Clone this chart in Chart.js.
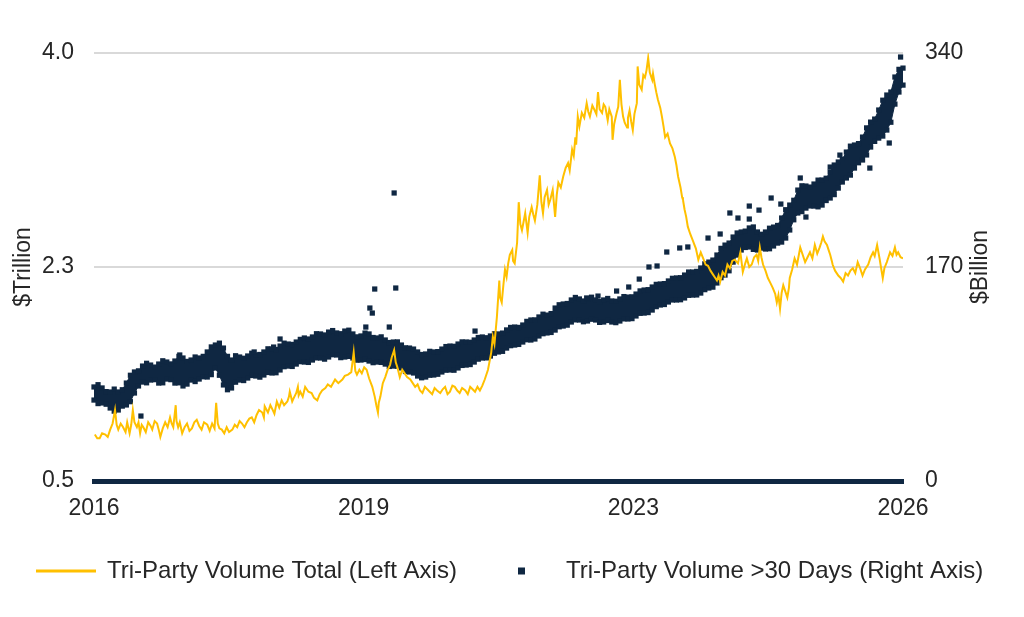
<!DOCTYPE html>
<html>
<head>
<meta charset="utf-8">
<script src="https://cdn.jsdelivr.net/npm/chart.js@4.4.1/dist/chart.umd.min.js"></script>
<style>
  html, body { margin: 0; padding: 0; background: #ffffff; }
  #wrap { width: 1024px; height: 617px; position: relative; }
</style>
</head>
<body>
<div id="wrap"><canvas id="c" width="1024" height="617"></canvas></div>
<script>
// ---------- DATA ----------
const seriesLabels = ['Tri-Party Volume Total (Left Axis)', 'Tri-Party Volume >30 Days (Right Axis)'];
const axisTitles = ['$Trillion', '$Billion'];

const xTickValues = [2016, 2019.333, 2022.667, 2026];
const xTickLabels = ['2016', '2019', '2023', '2026'];
const leftTickValues = [0.5, 2.25, 4.0];
const leftTickLabels = ['0.5', '2.3', '4.0'];
const rightTickValues = [0, 170, 340];
const rightTickLabels = ['0', '170', '340'];

// Tri-Party Volume Total ($ trillion)
const totalDates = [
  2016.01,2016.04,2016.07,2016.10,2016.14,2016.17,2016.20,2016.23,2016.26,2016.28,
  2016.30,2016.33,2016.36,2016.39,2016.41,2016.44,2016.46,2016.48,2016.50,2016.53,
  2016.55,2016.57,2016.59,2016.61,2016.64,2016.67,2016.70,2016.72,2016.75,2016.78,
  2016.80,2016.82,2016.85,2016.88,2016.91,2016.94,2016.96,2016.98,2017.01,2017.02,
  2017.04,2017.06,2017.09,2017.12,2017.15,2017.18,2017.21,2017.24,2017.27,2017.30,
  2017.33,2017.36,2017.40,2017.43,2017.46,2017.49,2017.51,2017.53,2017.55,2017.58,
  2017.61,2017.64,2017.67,2017.71,2017.74,2017.77,2017.80,2017.83,2017.86,2017.89,
  2017.92,2017.95,2017.98,2018.01,2018.04,2018.08,2018.10,2018.11,2018.15,2018.18,
  2018.21,2018.23,2018.26,2018.29,2018.32,2018.35,2018.39,2018.41,2018.42,2018.45,
  2018.47,2018.50,2018.52,2018.53,2018.55,2018.58,2018.61,2018.65,2018.69,2018.72,
  2018.76,2018.79,2018.82,2018.86,2018.89,2018.93,2018.98,2019.02,2019.07,2019.10,
  2019.14,2019.18,2019.21,2019.23,2019.25,2019.28,2019.31,2019.34,2019.37,2019.40,
  2019.44,2019.47,2019.49,2019.51,2019.52,2019.54,2019.57,2019.60,2019.63,2019.66,
  2019.68,2019.71,2019.73,2019.75,2019.78,2019.81,2019.84,2019.87,2019.91,2019.94,
  2019.97,2020.00,2020.03,2020.06,2020.09,2020.12,2020.15,2020.18,2020.21,2020.24,
  2020.28,2020.31,2020.34,2020.37,2020.40,2020.43,2020.46,2020.49,2020.52,2020.55,
  2020.59,2020.62,2020.65,2020.68,2020.71,2020.74,2020.77,2020.80,2020.83,2020.87,
  2020.91,2020.93,2020.95,2020.98,2021.01,2021.02,2021.04,2021.06,2021.08,2021.10,
  2021.12,2021.14,2021.17,2021.18,2021.20,2021.23,2021.25,2021.27,2021.29,2021.31,
  2021.33,2021.36,2021.38,2021.41,2021.43,2021.45,2021.48,2021.51,2021.53,2021.55,
  2021.57,2021.60,2021.62,2021.64,2021.67,2021.70,2021.72,2021.74,2021.77,2021.80,
  2021.83,2021.86,2021.88,2021.91,2021.93,2021.95,2021.96,2021.98,2022.00,2022.03,
  2022.06,2022.09,2022.11,2022.13,2022.16,2022.19,2022.21,2022.23,2022.25,2022.28,
  2022.30,2022.32,2022.35,2022.37,2022.40,2022.41,2022.43,2022.46,2022.48,2022.50,
  2022.52,2022.54,2022.56,2022.59,2022.60,2022.62,2022.64,2022.66,2022.68,2022.71,
  2022.72,2022.74,2022.77,2022.79,2022.81,2022.83,2022.85,2022.87,2022.90,2022.91,
  2022.93,2022.95,2022.97,2023.00,2023.02,2023.04,2023.06,2023.09,2023.12,2023.15,
  2023.18,2023.20,2023.22,2023.25,2023.27,2023.28,2023.30,2023.32,2023.34,2023.37,
  2023.40,2023.44,2023.47,2023.50,2023.53,2023.56,2023.59,2023.62,2023.65,2023.68,
  2023.70,2023.72,2023.74,2023.77,2023.80,2023.83,2023.86,2023.89,2023.92,2023.96,
  2023.99,2024.02,2024.05,2024.07,2024.10,2024.13,2024.16,2024.19,2024.21,2024.23,
  2024.25,2024.27,2024.30,2024.33,2024.36,2024.39,2024.42,2024.44,2024.46,2024.48,
  2024.50,2024.52,2024.55,2024.57,2024.59,2024.60,2024.63,2024.66,2024.69,2024.73,
  2024.76,2024.79,2024.82,2024.85,2024.88,2024.91,2024.94,2024.97,2024.99,2025.01,
  2025.03,2025.06,2025.08,2025.10,2025.12,2025.13,2025.16,2025.20,2025.23,2025.26,
  2025.29,2025.32,2025.35,2025.38,2025.41,2025.44,2025.47,2025.50,2025.53,2025.57,
  2025.60,2025.63,2025.65,2025.68,2025.71,2025.73,2025.75,2025.77,2025.80,2025.82,
  2025.84,2025.87,2025.90,2025.92,2025.94,2025.97,2026.00
];
const totalValues = [
  0.88,0.85,0.85,0.89,0.88,0.86,0.92,0.97,1.08,0.96,
  0.92,0.97,0.94,0.90,0.98,0.89,0.96,1.08,0.98,0.94,
  0.98,0.89,0.96,0.94,0.90,0.98,0.95,0.92,0.99,0.97,
  0.92,0.86,0.93,0.98,0.94,1.02,0.97,0.94,1.12,0.99,
  0.94,0.98,0.89,0.94,0.97,0.91,0.93,0.98,1.00,0.95,
  0.92,0.98,0.96,0.91,0.97,0.93,1.14,0.97,0.93,0.92,
  0.89,0.94,0.90,0.92,0.96,0.94,0.99,0.97,0.94,0.98,
  1.01,1.02,0.98,1.04,1.08,1.06,1.02,1.11,1.06,1.12,
  1.08,1.05,1.15,1.10,1.16,1.12,1.15,1.19,1.23,1.15,
  1.18,1.22,1.27,1.20,1.23,1.19,1.27,1.23,1.22,1.18,
  1.16,1.21,1.24,1.26,1.29,1.27,1.33,1.30,1.33,1.36,
  1.37,1.39,1.55,1.40,1.37,1.41,1.38,1.43,1.41,1.34,
  1.27,1.19,1.12,1.06,1.14,1.19,1.30,1.35,1.41,1.45,
  1.51,1.57,1.47,1.43,1.35,1.41,1.38,1.35,1.33,1.30,
  1.27,1.29,1.24,1.22,1.27,1.25,1.23,1.21,1.26,1.24,
  1.22,1.25,1.27,1.21,1.23,1.28,1.27,1.24,1.22,1.26,
  1.24,1.21,1.27,1.25,1.23,1.27,1.24,1.28,1.33,1.41,
  1.55,1.68,1.62,1.84,2.14,2.00,1.96,2.10,2.23,2.17,
  2.28,2.35,2.39,2.30,2.28,2.45,2.78,2.60,2.55,2.62,
  2.69,2.53,2.66,2.74,2.68,2.63,2.76,3.00,2.78,2.69,
  2.82,2.88,2.76,2.80,2.88,2.66,2.84,2.94,2.90,2.99,
  3.06,3.10,3.04,3.21,3.16,3.31,3.25,3.48,3.40,3.51,
  3.47,3.59,3.52,3.48,3.57,3.53,3.50,3.68,3.54,3.51,
  3.58,3.56,3.45,3.54,3.48,3.29,3.42,3.51,3.56,3.78,
  3.58,3.48,3.43,3.39,3.47,3.53,3.44,3.37,3.50,3.59,
  3.89,3.74,3.70,3.82,3.80,3.86,3.96,3.84,3.78,3.83,
  3.75,3.68,3.62,3.55,3.48,3.40,3.31,3.34,3.26,3.22,
  3.15,3.08,2.99,2.90,2.82,2.80,2.72,2.66,2.58,2.52,
  2.47,2.40,2.31,2.37,2.32,2.27,2.26,2.22,2.19,2.16,
  2.14,2.18,2.13,2.21,2.18,2.27,2.24,2.30,2.31,2.28,
  2.37,2.21,2.28,2.32,2.25,2.27,2.33,2.35,2.30,2.41,
  2.33,2.27,2.22,2.16,2.12,2.08,2.03,1.96,2.02,1.91,
  2.04,2.10,2.04,2.00,2.08,2.16,2.23,2.32,2.27,2.41,
  2.35,2.29,2.33,2.37,2.32,2.43,2.36,2.41,2.45,2.50,
  2.46,2.43,2.39,2.35,2.30,2.27,2.22,2.18,2.16,2.13,
  2.20,2.18,2.22,2.24,2.20,2.29,2.24,2.18,2.23,2.27,
  2.33,2.37,2.34,2.43,2.32,2.24,2.16,2.24,2.29,2.33,
  2.37,2.34,2.41,2.35,2.37,2.33,2.32
];

// Tri-Party Volume >30 Days ($ billion): upper and lower edge of the dense band of daily points
const termDates = [
  2016.00,2016.05,2016.10,2016.15,2016.20,2016.25,2016.30,2016.35,2016.40,2016.45,
  2016.50,2016.55,2016.60,2016.65,2016.70,2016.75,2016.80,2016.85,2016.90,2016.95,
  2017.00,2017.05,2017.10,2017.15,2017.20,2017.25,2017.30,2017.35,2017.40,2017.45,
  2017.50,2017.55,2017.60,2017.65,2017.70,2017.75,2017.80,2017.85,2017.90,2017.95,
  2018.00,2018.05,2018.10,2018.15,2018.20,2018.25,2018.30,2018.35,2018.40,2018.45,
  2018.50,2018.55,2018.60,2018.65,2018.70,2018.75,2018.80,2018.85,2018.90,2018.95,
  2019.00,2019.05,2019.10,2019.15,2019.20,2019.25,2019.30,2019.35,2019.40,2019.45,
  2019.50,2019.55,2019.60,2019.65,2019.70,2019.75,2019.80,2019.85,2019.90,2019.95,
  2020.00,2020.05,2020.10,2020.15,2020.20,2020.25,2020.30,2020.35,2020.40,2020.45,
  2020.50,2020.55,2020.60,2020.65,2020.70,2020.75,2020.80,2020.85,2020.90,2020.95,
  2021.00,2021.05,2021.10,2021.15,2021.20,2021.25,2021.30,2021.35,2021.40,2021.45,
  2021.50,2021.55,2021.60,2021.65,2021.70,2021.75,2021.80,2021.85,2021.90,2021.95,
  2022.00,2022.05,2022.10,2022.15,2022.20,2022.25,2022.30,2022.35,2022.40,2022.45,
  2022.50,2022.55,2022.60,2022.65,2022.70,2022.75,2022.80,2022.85,2022.90,2022.95,
  2023.00,2023.05,2023.10,2023.15,2023.20,2023.25,2023.30,2023.35,2023.40,2023.45,
  2023.50,2023.55,2023.60,2023.65,2023.70,2023.75,2023.80,2023.85,2023.90,2023.95,
  2024.00,2024.05,2024.10,2024.15,2024.20,2024.25,2024.30,2024.35,2024.40,2024.45,
  2024.50,2024.55,2024.60,2024.65,2024.70,2024.75,2024.80,2024.85,2024.90,2024.95,
  2025.00,2025.05,2025.10,2025.15,2025.20,2025.25,2025.30,2025.35,2025.40,2025.45,
  2025.50,2025.55,2025.60,2025.65,2025.70,2025.75,2025.80,2025.85,2025.90,2025.95,
  2026.00
];
const termHigh = [
  74.7,76.5,73.9,71.0,70.7,73.0,70.7,72.5,77.8,84.0,
  86.6,87.5,91.3,93.5,92.1,90.5,92.9,95.5,94.5,93.0,
  95.3,99.0,97.7,95.0,96.1,98.5,97.7,99.0,102.5,106.5,
  108.0,109.5,105.6,99.0,96.1,99.5,98.5,97.5,99.3,101.5,
  100.1,100.5,102.5,105.0,104.8,104.5,107.2,109.5,108.8,108.5,
  110.4,112.5,113.6,112.8,114.4,117.0,116.8,116.0,118.3,119.5,
  117.6,117.0,119.1,119.8,116.8,114.5,115.2,117.5,116.8,114.0,
  113.6,114.5,112.0,110.0,110.4,110.5,108.0,105.8,105.6,104.8,
  102.5,100.5,100.9,103.0,102.5,102.8,104.8,106.8,107.2,107.0,
  108.8,110.5,110.4,110.2,112.0,114.0,114.4,113.8,115.2,117.0,
  116.8,117.5,120.0,122.0,122.3,122.0,123.9,126.8,127.9,128.0,
  130.3,132.5,131.8,133.0,137.4,140.0,140.6,141.0,143.8,145.8,
  144.6,143.0,144.6,146.0,143.8,142.5,143.8,145.0,143.0,142.8,
  144.6,146.5,146.1,146.3,148.5,151.0,151.7,152.0,154.1,156.2,
  156.5,156.8,158.9,161.0,161.3,161.5,163.6,166.0,166.0,166.5,
  169.2,172.5,173.9,175.5,179.5,184.8,187.4,189.0,193.8,197.0,
  197.8,198.5,201.0,201.8,197.8,196.0,197.8,200.8,201.7,203.0,
  208.9,215.5,219.2,223.0,231.1,234.5,234.3,233.5,235.9,239.0,
  239.1,240.5,245.4,251.0,253.4,255.5,261.3,266.0,266.9,268.0,
  273.2,280.5,285.1,287.5,294.7,302.5,306.6,309.0,320.9,327.0,
  328.0
];
const termLow = [
  64.3,61.5,62.0,61.0,58.0,55.5,56.4,59.5,60.4,63.0,
  69.9,75.5,78.6,78.0,80.2,80.5,77.8,78.0,81.0,80.5,
  77.8,78.0,75.5,77.0,80.2,79.0,81.0,82.8,82.6,84.5,
  89.8,84.0,76.3,72.5,73.9,78.5,80.2,79.8,81.8,83.8,
  83.4,82.5,84.2,86.2,85.8,86.0,88.2,90.8,91.3,91.0,
  92.9,94.8,94.5,94.2,96.1,97.8,97.7,96.8,98.5,100.3,
  100.1,98.0,98.5,99.0,97.7,96.0,96.1,96.5,95.3,94.0,
  94.5,94.2,92.9,91.0,91.3,91.2,89.8,87.0,86.6,85.8,
  83.4,82.0,82.6,84.0,84.2,84.8,86.6,88.0,88.2,88.0,
  89.8,91.8,92.1,92.5,94.5,96.8,97.7,97.8,99.3,101.5,
  102.5,103.0,105.6,107.5,108.0,108.5,110.4,112.2,112.0,112.8,
  115.2,117.0,117.6,118.0,119.9,122.5,123.1,123.8,126.3,128.0,
  127.9,126.5,127.1,128.5,127.9,126.0,126.3,127.5,126.3,125.8,
  127.1,128.8,128.7,129.0,131.1,133.2,133.4,133.8,135.8,138.5,
  139.8,140.2,142.2,143.8,143.8,144.0,145.4,147.5,147.7,147.8,
  149.3,152.0,153.3,154.0,157.3,161.5,163.6,167.0,173.9,179.5,
  183.5,185.5,185.9,184.0,183.5,185.0,184.3,184.5,186.7,189.0,
  189.8,193.0,199.4,207.5,212.9,214.0,216.8,218.5,218.4,217.8,
  219.2,222.8,224.8,227.5,232.7,237.5,240.7,243.0,248.6,252.8,
  255.0,259.0,265.3,269.8,272.4,274.0,278.8,285.0,299.4,309.0,
  314.5
];
// isolated daily points outside the band
const termOutlierDates = [
  2016.58,2017.06,2017.98,2018.22,2018.30,2019.36,2019.41,2019.44,2019.47,2019.65,
  2019.71,2019.73,2020.71,2022.09,2022.23,2022.46,2022.61,2022.74,2022.86,2022.96,
  2023.08,2023.24,2023.34,2023.59,2023.74,2023.86,2023.96,2024.10,2024.10,2024.22,
  2024.37,2024.49,2024.73,2024.80,2025.10,2025.22,2025.59,2025.83,2025.97
];
const termOutlierValues = [
  51.6,100.1,102.5,106.4,112.8,122.3,137.4,133.4,152.5,122.3,
  228.8,153.3,119.1,145.4,146.9,150.9,154.1,160.4,170.0,170.8,
  181.9,185.1,185.9,193.0,196.2,212.9,208.9,218.4,208.1,215.2,
  224.8,220.0,240.7,209.7,249.4,258.9,248.6,268.5,336.8
];

// ---------- STYLE ----------
const GOLD = '#FFC000';
const NAVY = '#0f2742';
const TEXT = '#262626';
const FONT = '"Liberation Sans", Arial, sans-serif';

const pts = (xs, ys) => xs.map((x, i) => ({ x: x, y: ys[i] }));

const overlay = {
  id: 'overlay',
  afterDraw(chart) {
    const ctx = chart.ctx;
    const ca = chart.chartArea;
    const midY = (ca.top + ca.bottom) / 2;
    ctx.save();
    ctx.fillStyle = TEXT;
    ctx.font = '23px ' + FONT;
    ctx.textAlign = 'center';
    ctx.textBaseline = 'middle';
    // axis titles, both reading bottom-to-top
    ctx.save();
    ctx.translate(24, midY);
    ctx.rotate(-Math.PI / 2);
    ctx.fillText(axisTitles[0], 0, 0);
    ctx.restore();
    ctx.save();
    ctx.translate(981, midY);
    ctx.rotate(-Math.PI / 2);
    ctx.fillText(axisTitles[1], 0, 0);
    ctx.restore();

    // legend
    const ly = 571;
    ctx.font = '24px ' + FONT;
    ctx.textAlign = 'left';
    ctx.strokeStyle = GOLD;
    ctx.lineWidth = 3;
    ctx.beginPath();
    ctx.moveTo(36, ly);
    ctx.lineTo(96, ly);
    ctx.stroke();
    ctx.fillText(seriesLabels[0], 107, ly);
    ctx.fillStyle = NAVY;
    ctx.fillRect(518, ly - 3.5, 7, 7);
    ctx.fillStyle = TEXT;
    ctx.fillText(seriesLabels[1], 566, ly);
    ctx.restore();
  }
};

const squarePoint = {
  pointStyle: 'rect',
  pointRadius: 3.7,
  pointHoverRadius: 3.7,
  pointBackgroundColor: NAVY,
  pointBorderColor: NAVY,
  pointBorderWidth: 0
};

new Chart(document.getElementById('c'), {
  type: 'line',
  data: {
    datasets: [
      {
        label: seriesLabels[0],
        data: pts(totalDates, totalValues),
        yAxisID: 'y',
        borderColor: GOLD,
        backgroundColor: GOLD,
        borderWidth: 2,
        pointRadius: 0,
        tension: 0,
        fill: false,
        order: 0
      },
      Object.assign({
        label: seriesLabels[1],
        data: pts(termDates, termHigh),
        yAxisID: 'y2',
        borderColor: NAVY,
        backgroundColor: NAVY,
        borderWidth: 1,
        tension: 0,
        fill: false,
        clip: false,
        order: 2
      }, squarePoint),
      Object.assign({
        label: seriesLabels[1] + ' low',
        data: pts(termDates, termLow),
        yAxisID: 'y2',
        borderColor: NAVY,
        backgroundColor: NAVY,
        borderWidth: 1,
        tension: 0,
        fill: 1,
        clip: false,
        order: 2
      }, squarePoint),
      Object.assign({
        label: seriesLabels[1] + ' isolated',
        data: pts(termOutlierDates, termOutlierValues),
        yAxisID: 'y2',
        showLine: false,
        borderColor: NAVY,
        backgroundColor: NAVY,
        clip: false,
        order: 1
      }, squarePoint)
    ]
  },
  options: {
    responsive: false,
    animation: false,
    devicePixelRatio: 1,
    layout: { padding: { top: 53, left: 0, right: 0, bottom: 0 } },
    plugins: { legend: { display: false }, tooltip: { enabled: false } },
    scales: {
      x: {
        type: 'linear',
        position: 'bottom',
        min: 2016,
        max: 2026,
        afterBuildTicks: (s) => { s.ticks = xTickValues.map(v => ({ value: v })); },
        afterFit: (s) => { s.height = 617 - 481; },
        ticks: {
          autoSkip: false,
          maxRotation: 0,
          padding: 14,
          color: TEXT,
          font: { family: FONT, size: 23 },
          callback: (v, i) => xTickLabels[i]
        },
        grid: { drawOnChartArea: false, drawTicks: false },
        border: { display: true, color: NAVY, width: 5 }
      },
      y: {
        position: 'left',
        min: 0.5,
        max: 4.0,
        afterBuildTicks: (s) => { s.ticks = leftTickValues.map(v => ({ value: v })); },
        afterFit: (s) => { s.width = 94; },
        ticks: {
          padding: 20,
          color: TEXT,
          font: { family: FONT, size: 23 },
          callback: (v, i) => leftTickLabels[i]
        },
        grid: {
          drawTicks: false,
          lineWidth: 2,
          color: (c) => (c.tick && c.tick.value === leftTickValues[0]) ? 'rgba(0,0,0,0)' : '#d9d9d9'
        },
        border: { display: false }
      },
      y2: {
        position: 'right',
        min: 0,
        max: 340,
        afterBuildTicks: (s) => { s.ticks = rightTickValues.map(v => ({ value: v })); },
        afterFit: (s) => { s.width = 1024 - 903; },
        ticks: {
          padding: 22,
          color: TEXT,
          font: { family: FONT, size: 23 },
          callback: (v, i) => rightTickLabels[i]
        },
        grid: { display: false, drawTicks: false },
        border: { display: false }
      }
    }
  },
  plugins: [overlay]
});
</script>
</body>
</html>
